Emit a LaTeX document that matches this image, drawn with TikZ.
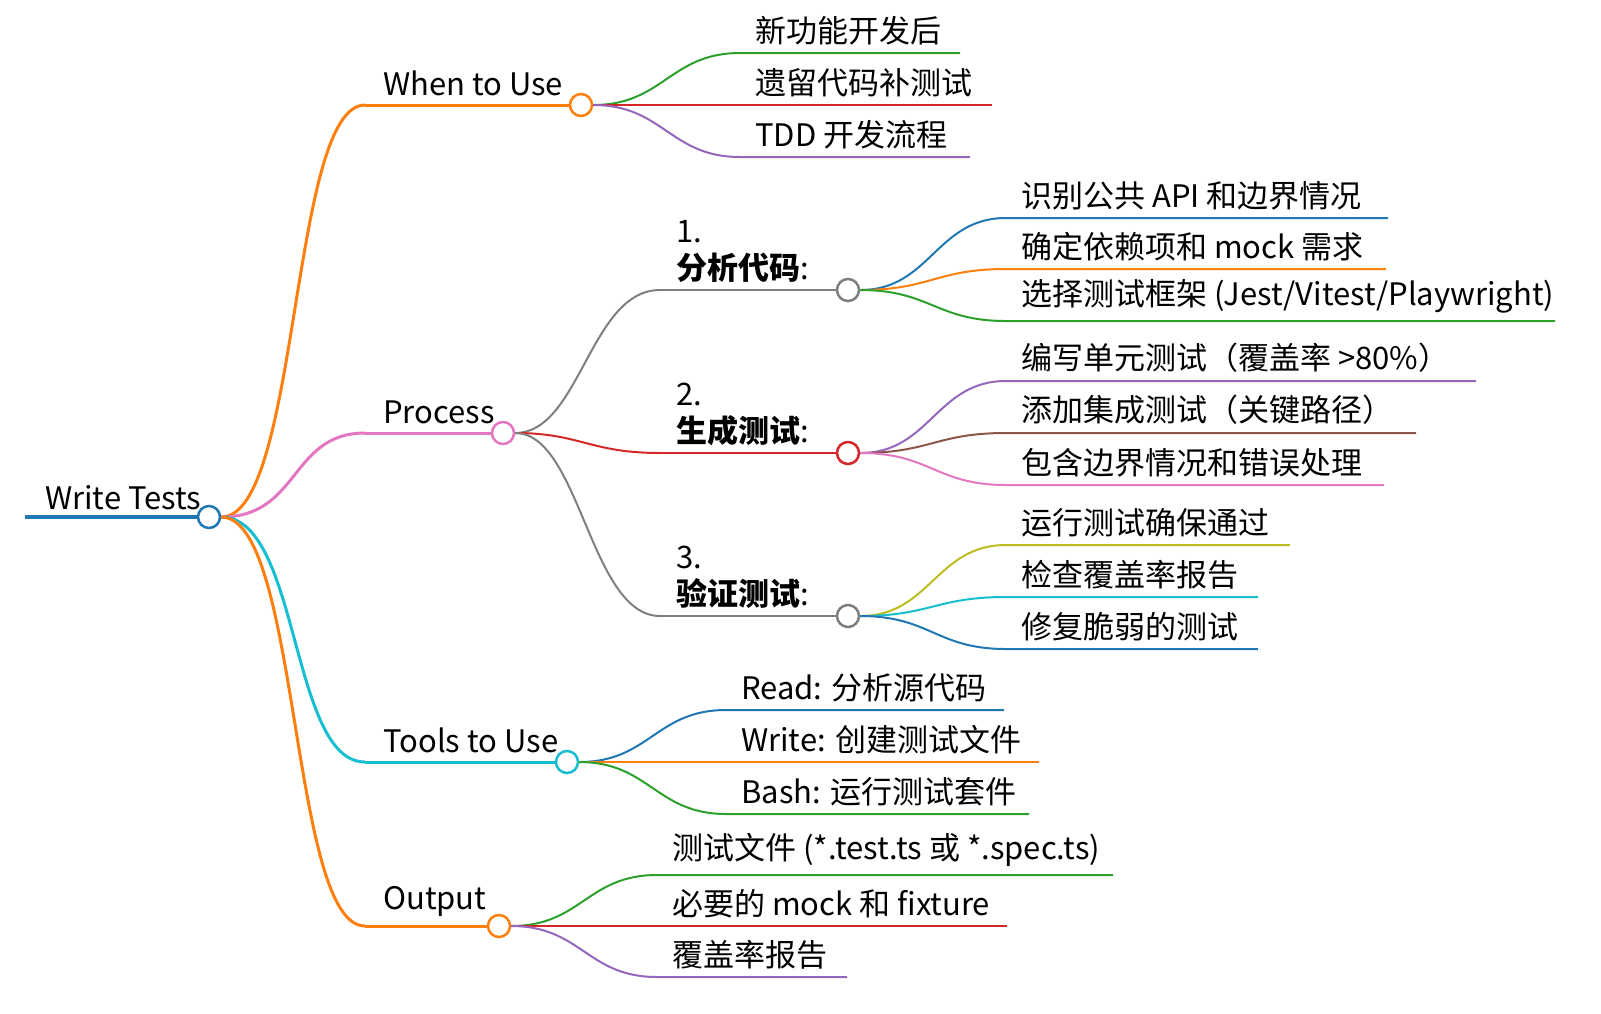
\documentclass[tikz,border=0pt]{standalone}
\usepackage{fontspec}
\setmainfont{Noto Sans CJK SC}
\definecolor{cBlue}{HTML}{1F77B4}
\definecolor{cOrange}{HTML}{FF7F0E}
\definecolor{cGreen}{HTML}{2CA02C}
\definecolor{cRed}{HTML}{D62728}
\definecolor{cPurple}{HTML}{9467BD}
\definecolor{cBrown}{HTML}{8C564B}
\definecolor{cPink}{HTML}{E377C2}
\definecolor{cGray}{HTML}{7F7F7F}
\definecolor{cOlive}{HTML}{BCBD22}
\definecolor{cCyan}{HTML}{17BECF}
\tikzset{
  hub/.style={circle,draw=#1,line width=2.5pt,fill=white,minimum size=22pt,inner sep=0pt},
  txt/.style={anchor=south west,inner sep=0pt,font=\fontsize{31}{36}\selectfont},
  branch/.style={draw=#1,line width=3pt},
  twig/.style={draw=#1,line width=2pt}
}
% leaf: name, y, start x, end x, colour, text, parent
\newcommand{\leaf}[7]{%
  \coordinate (#1a) at (#3,#2);
  \coordinate (#1b) at (#4,#2);
  \draw[twig=#5] (#7.east) .. controls ($(#7.east)+(70,0)$) and ($(#1a)+(-70,0)$) .. (#1a) -- (#1b);
  \node[txt] (#1t) at ($(#1a)+(15,-8)$) {#6};
}
\usetikzlibrary{calc}
\begin{document}
\begin{tikzpicture}[x=1pt,y=-1pt]
\useasboundingbox (0,0) rectangle (1601,1013);
% root
\coordinate (rootL) at (25,517);
\node[hub=cBlue] (root) at (209,517) {};
\draw[cBlue,line width=4pt] (rootL) -- (root.west);
\node[txt] (rootT) at (45,510) {Write Tests};
% level 1
\foreach \nm/\y/\hx/\lx/\col/\lab in {use/105/581/383/cOrange/When to Use,
    proc/433/503/383/cPink/Process,
    tool/762/567/383/cCyan/Tools to Use,
    out/926/499/383/cOrange/Output}{
  \coordinate (\nm S) at (365,\y);
  \draw[branch=\col] (root.east) .. controls (300,517) and (290,\y) .. (\nm S);
  \node[hub=\col] (\nm) at (\hx,\y) {};
  \draw[branch=\col] (\nm S) -- (\nm.west);
  \node[txt] (\nm T) at (\lx,\y-9) {\lab};
}
% Process steps
\foreach \nm/\y/\col/\num/\lab in {sa/290/cGray/1./分析代码,
    sb/453/cRed/2./生成测试,
    sc/616/cGray/3./验证测试}{
  \coordinate (\nm S) at (660,\y);
  \draw[twig=\col] (proc.east) .. controls (580,433) and (590,\y) .. (\nm S);
  \node[hub=\col] (\nm) at (848,\y) {};
  \draw[twig=\col] (\nm S) -- (\nm.west);
  \node[txt] (\nm T) at (676,\y-7) {\textbf{\lab}:};
  \node[txt] (\nm N) at (676,\y-47) {\num};
}
% leaves
\leaf{ua}{53}{740}{960}{cGreen}{新功能开发后}{use}
\leaf{ub}{105}{740}{992}{cRed}{遗留代码补测试}{use}
\leaf{uc}{157}{740}{970}{cPurple}{TDD 开发流程}{use}
\leaf{aa}{218}{1006}{1388}{cBlue}{识别公共 API 和边界情况}{sa}
\leaf{ab}{269}{1006}{1386}{cOrange}{确定依赖项和 mock 需求}{sa}
\leaf{ac}{321}{1006}{1555}{cGreen}{选择测试框架 (Jest/Vitest/Playwright)}{sa}
\leaf{ba}{381}{1006}{1476}{cPurple}{编写单元测试（覆盖率 >80\%）}{sb}
\leaf{bb}{433}{1006}{1416}{cBrown}{添加集成测试（关键路径）}{sb}
\leaf{bc}{485}{1006}{1384}{cPink}{包含边界情况和错误处理}{sb}
\leaf{ca}{545}{1006}{1290}{cOlive}{运行测试确保通过}{sc}
\leaf{cb}{597}{1006}{1258}{cCyan}{检查覆盖率报告}{sc}
\leaf{cc}{649}{1006}{1258}{cBlue}{修复脆弱的测试}{sc}
\leaf{ta}{710}{726}{1004}{cBlue}{Read: 分析源代码}{tool}
\leaf{tb}{762}{726}{1039}{cOrange}{Write: 创建测试文件}{tool}
\leaf{tc}{814}{726}{1029}{cGreen}{Bash: 运行测试套件}{tool}
\leaf{oa}{875}{657}{1113}{cGreen}{测试文件 (*.test.ts 或 *.spec.ts)}{out}
\leaf{ob}{926}{657}{1007}{cRed}{必要的 mock 和 fixture}{out}
\leaf{oc}{977}{657}{847}{cPurple}{覆盖率报告}{out}
\end{tikzpicture}
\end{document}
